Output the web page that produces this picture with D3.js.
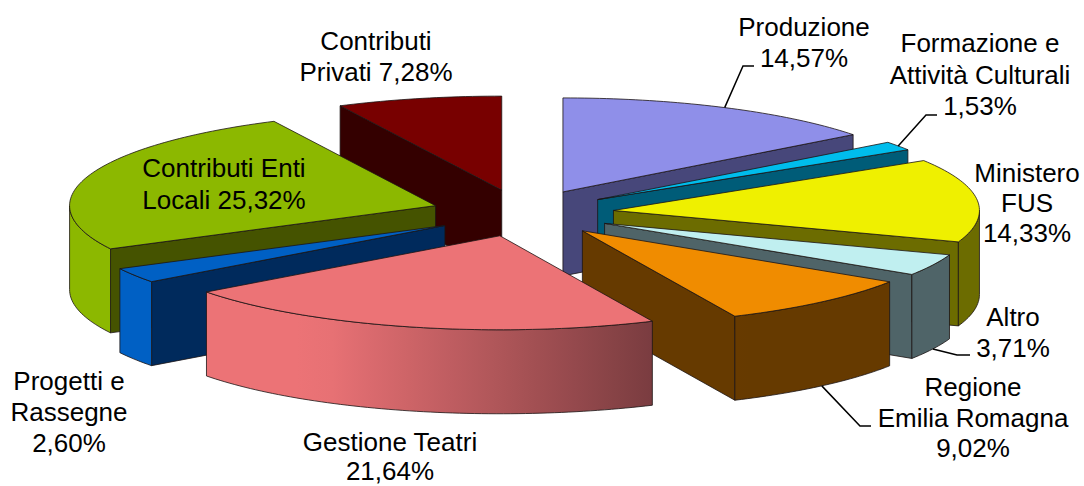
<!DOCTYPE html>
<html><head><meta charset="utf-8">
<script src="https://cdn.jsdelivr.net/npm/d3@7/dist/d3.min.js"></script>
<style>html,body{margin:0;padding:0;background:#fff}svg{display:block}text{font-family:"Liberation Sans",Arial,sans-serif;font-size:26px;fill:#000}</style>
</head><body><svg id="c" width="1084" height="486"></svg>
<script>
const categories = ["Produzione","Formazione e Attività Culturali","Ministero FUS","Altro","Regione Emilia Romagna","Gestione Teatri","Progetti e Rassegne","Contributi Enti Locali","Contributi Privati"];
const values = [14.57,1.53,14.33,3.71,9.02,21.64,2.60,25.32,7.28];
const topColors = ["#8f8fe9","#00bdec","#eff000","#c0eff0","#f08c00","#ec7376","#0060c4","#8cb800","#780000"];
const sideColors = ["#47477a","#005c78","#6c6c00","#4f6468","#663a00","#7a3c40","#002a5c","#455300","#340000"];
const labelLines = [["Produzione","14,57%"],["Formazione e","Attività Culturali","1,53%"],["Ministero","FUS","14,33%"],["Altro","3,71%"],["Regione","Emilia Romagna","9,02%"],["Gestione Teatri","21,64%"],["Progetti e","Rassegne","2,60%"],["Contributi Enti","Locali 25,32%"],["Contributi","Privati 7,28%"]];
const labelCentres = [804,980,1027,1013,973,390,69,224,376];
const labelBaselines = [36,52,182,326,396,451,390,177,50];
const labelLeading = [31,31.5,30,31,30.5,29,31,32,31];
const leaderElbows = [[[743,66],[754,66]],[[926,115],[937,115]],null,[[957,355],[970,355]],[[860,426],[871,426]],null,null,null,null];

const W=1084,H=486,cx=522.5,cy=213,R=366,Ry=94,depth=84,explode=0.25;
const svg=d3.select("#c"), defs=svg.append("defs");
const arcs=d3.pie().sort(null).value(d=>d).startAngle(0).endAngle(2*Math.PI)(values);
const sx=d3.scaleLinear().domain([-1,1]).range([-R,R]), sy=d3.scaleLinear().domain([-1,1]).range([-Ry,Ry]);
const pt=(c,a,r=1,z=0)=>[c[0]+sx(r*Math.sin(a)),c[1]-sy(r*Math.cos(a))+z];
const line=d3.line();
function arcPts(c,a0,a1,z){const n=Math.max(2,Math.ceil((a1-a0)/0.02));return d3.range(n+1).map(i=>pt(c,a0+(a1-a0)*i/n,1,z));}
const apex=arcs.map(d=>{const m=(d.startAngle+d.endAngle)/2;return [cx+sx(explode*Math.sin(m)),cy-sy(explode*Math.cos(m))];});
// painter order: back to front
const order=[8,0,1,2,3,4,7,6,5];
const strokeC="#1c1414",sw=0.8;
order.forEach(i=>{
  const d=arcs[i],c=apex[i],a0=d.startAngle,a1=d.endAngle,g=svg.append("g");
  const face=a=>{const p=pt(c,a);g.append("path").attr("d",line([c,p,[p[0],p[1]+depth],[c[0],c[1]+depth]])+"Z")
     .attr("fill",sideColors[i]).attr("stroke",strokeC).attr("stroke-width",sw).attr("stroke-linejoin","round");};
  if(Math.sin(a0)<-1e-6) face(a0);
  if(Math.sin(a1)>1e-6) face(a1);
  const w0=Math.max(a0,Math.PI/2),w1=Math.min(a1,1.5*Math.PI);
  if(w1>w0){
    const id="w"+i,x0=pt(c,w0)[0],x1=pt(c,w1)[0];
    const gr=defs.append("linearGradient").attr("id",id).attr("gradientUnits","userSpaceOnUse").attr("x1",x0).attr("x2",x1).attr("y1",0).attr("y2",0);
    const col=d3.interpolateRgb(topColors[i],sideColors[i]);
    d3.range(13).forEach(k=>{const a=w0+(w1-w0)*k/12,s=Math.sin(a),t=Math.max(0,Math.min(1,(s+0.5)/0.92));
      const off=(pt(c,a)[0]-x0)/(x1-x0||1);
      gr.append("stop").attr("offset",off).attr("stop-color",col(t));});
    const top=arcPts(c,w0,w1,0),bot=arcPts(c,w0,w1,depth).reverse();
    g.append("path").attr("d",line(top.concat(bot))+"Z").attr("fill",`url(#${id})`).attr("stroke",strokeC).attr("stroke-width",sw).attr("stroke-linejoin","round");
  }
  g.append("path").attr("d",line([c].concat(arcPts(c,a0,a1,0)))+"Z").attr("fill",topColors[i]).attr("stroke",strokeC).attr("stroke-width",sw).attr("stroke-linejoin","round");
});
// leader lines
leaderElbows.forEach((e,i)=>{ if(!e) return;
  const d=arcs[i],m=(d.startAngle+d.endAngle)/2,front=Math.cos(m)<0;
  const s=pt(apex[i],m,1,front?depth:0);
  svg.append("path").attr("d",line([s].concat(e))).attr("fill","none").attr("stroke","#000").attr("stroke-width",1.5);
});
// labels
labelLines.forEach((ls,i)=>{
  const t=svg.append("text").attr("text-anchor","middle");
  ls.forEach((l,k)=>t.append("tspan").attr("x",labelCentres[i]).attr("y",labelBaselines[i]+k*labelLeading[i]).text(l));
});
</script></body></html>
